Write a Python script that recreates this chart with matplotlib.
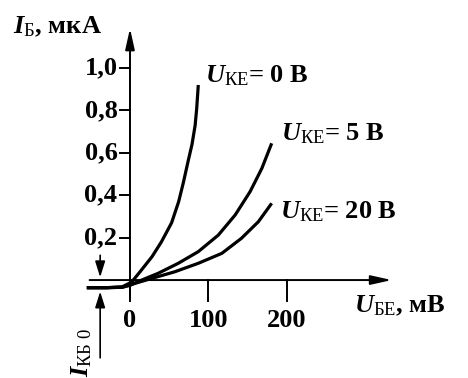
import matplotlib
matplotlib.use("Agg")
from matplotlib import pyplot as plt

plt.rcParams['font.family'] = ['Liberation Serif', 'DejaVu Serif']
plt.rcParams['mathtext.fontset'] = 'custom'
plt.rcParams['mathtext.rm'] = 'Liberation Serif:normal'
plt.rcParams['mathtext.it'] = 'Liberation Serif:italic:bold'
plt.rcParams['mathtext.bf'] = 'Liberation Serif:bold'

# input characteristics (U_BE in mV, I_B in uA)
u0_x = [-55, -30, -10, 2, 13, 28, 40, 53, 62, 68, 74, 79, 83, 85, 87]
u0_y = [-0.036, -0.036, -0.032, -0.01, 0.04, 0.11, 0.18, 0.27, 0.37, 0.46, 0.56, 0.64, 0.73, 0.81, 0.92]

u5_x = [-55, -30, -10, 0, 15, 36, 61.5, 87, 112.5, 134, 153, 168, 180.5]
u5_y = [-0.036, -0.036, -0.034, -0.025, 0.0, 0.032, 0.079, 0.134, 0.212, 0.307, 0.417, 0.527, 0.645]

u20_x = [-55, -30, -10, 6, 28, 57, 87, 117, 142, 163.5, 180.5]
u20_y = [-0.036, -0.036, -0.034, -0.016, 0.008, 0.039, 0.079, 0.126, 0.197, 0.275, 0.362]

y_ticks = [0.2, 0.4, 0.6, 0.8, 1.0]
x_ticks = [0, 100, 200]
ikb0 = -0.036

fig = plt.figure(figsize=(4.68, 3.78), dpi=100)
ax = fig.add_axes([0, 0, 1, 1])
ax.set_xlim(-165.6, 430.6)
ax.set_ylim(-0.462, 1.321)
ax.axis('off')

lw_ax = 1.4
fs = 19
# axes with arrows
ax.annotate('', xy=(0, 1.20), xytext=(0, -0.085),
            arrowprops=dict(arrowstyle='-|>,head_length=0.9,head_width=0.2',
                            lw=lw_ax, color='k', mutation_scale=14))
ax.annotate('', xy=(337, 0), xytext=(-55, 0),
            arrowprops=dict(arrowstyle='-|>,head_length=0.9,head_width=0.2',
                            lw=lw_ax, color='k', mutation_scale=14))

for v in y_ticks:
    ax.plot([-13, 0], [v, v], color='k', lw=lw_ax)
    ax.text(-16, v, f"{v:.1f}".replace('.', ','), ha='right', va='center',
            fontsize=fs, fontweight='bold')
for v in x_ticks:
    ax.plot([v, v], [0, -0.1], color='k', lw=lw_ax)
    ax.text(v, -0.19, str(v), ha='center', va='center', fontsize=fs, fontweight='bold')

# curves
for xs, ys in [(u0_x, u0_y), (u5_x, u5_y), (u20_x, u20_y)]:
    ax.plot(xs, ys, color='k', lw=2.3, solid_capstyle='butt', solid_joinstyle='round')

# I_KB0 indicator
ax.annotate('', xy=(-38, 0), xytext=(-38, 0.13),
            arrowprops=dict(arrowstyle='-|>,head_length=0.8,head_width=0.25',
                            lw=1.2, color='k', mutation_scale=12))
ax.annotate('', xy=(-38, ikb0 - 0.005), xytext=(-38, -0.38),
            arrowprops=dict(arrowstyle='-|>,head_length=0.8,head_width=0.25',
                            lw=1.2, color='k', mutation_scale=12))
ax.text(-62, -0.458, r'$I_{\mathrm{КБ\ 0}}$', rotation=90, ha='center', va='bottom',
        fontsize=fs, fontweight='bold')

# labels
ax.text(-149, 1.165, r'$I_{\mathrm{Б}}$, мкА', ha='left', va='baseline',
        fontsize=fs, fontweight='bold')
ax.text(285, -0.151, r'$U_{\mathrm{БЕ}}$, мВ', ha='left', va='baseline',
        fontsize=fs, fontweight='bold')
ax.text(95, 0.934, r'$U_{\mathrm{КЕ}}$= 0 В', ha='left', va='baseline',
        fontsize=fs, fontweight='bold')
ax.text(193, 0.66, r'$U_{\mathrm{КЕ}}$= 5 В', ha='left', va='baseline',
        fontsize=fs, fontweight='bold')
ax.text(191, 0.292, r'$U_{\mathrm{КЕ}}$= 20 В', ha='left', va='baseline',
        fontsize=fs, fontweight='bold')

fig.savefig('out.png', dpi=100)
